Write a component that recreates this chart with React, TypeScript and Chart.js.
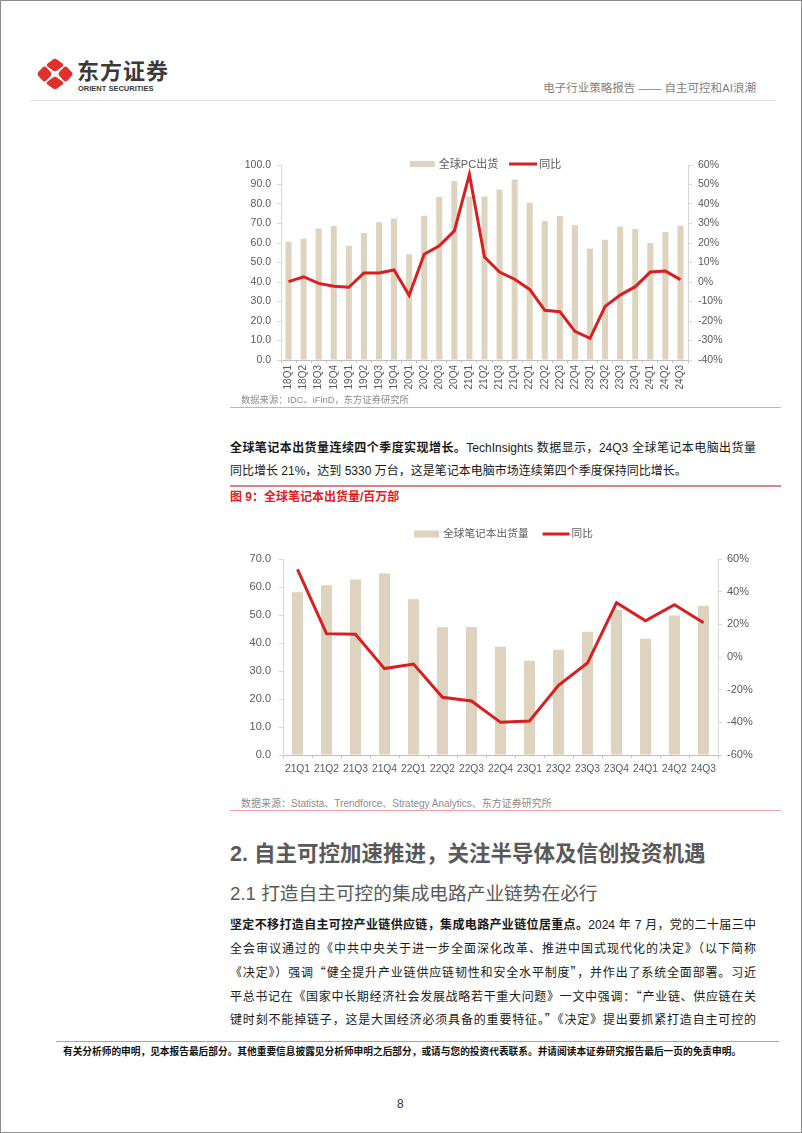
import React, { useEffect, useRef } from "react";
import { Chart, registerables } from "chart.js";

Chart.register(...registerables);

// ---------------- data ----------------
const pcQuarters = [
  "18Q1", "18Q2", "18Q3", "18Q4", "19Q1", "19Q2", "19Q3", "19Q4",
  "20Q1", "20Q2", "20Q3", "20Q4", "21Q1", "21Q2", "21Q3", "21Q4",
  "22Q1", "22Q2", "22Q3", "22Q4", "23Q1", "23Q2", "23Q3", "23Q4",
  "24Q1", "24Q2", "24Q3",
];
const pcShipments = [
  60.7, 62.2, 67.5, 68.7, 58.6, 65.1, 70.6, 72.6,
  54.2, 74.0, 83.6, 91.8, 83.9, 83.8, 87.4, 92.6,
  80.7, 71.3, 73.8, 69.1, 57.1, 61.7, 68.4, 67.2,
  60.0, 65.6, 68.9,
];
const pcYoY = [
  0.2, 2.7, -0.7, -2.2, -2.7, 4.6, 4.6, 6.2,
  -6.8, 14.2, 18.6, 26.2, 55.2, 12.8, 5.1, 1.4,
  -3.8, -14.5, -15.2, -25.3, -28.9, -12.5, -6.7, -2.4,
  5.1, 5.6, 1.2,
];
const pcLeftAxis = { min: 0, max: 100, step: 10 };
const pcRightAxis = { min: -40, max: 60, step: 10 };
const pcLabels = ["全球PC出货", "同比"];

const nbQuarters = [
  "21Q1", "21Q2", "21Q3", "21Q4", "22Q1", "22Q2", "22Q3", "22Q4",
  "23Q1", "23Q2", "23Q3", "23Q4", "24Q1", "24Q2", "24Q3",
];
const nbShipments = [
  58.1, 60.6, 62.7, 64.8, 55.6, 45.6, 45.7, 38.7,
  33.7, 37.6, 44.0, 51.9, 41.5, 49.8, 53.3,
];
const nbYoY = [
  53.7, 14.3, 13.9, -7.1, -4.3, -24.7, -26.9, -40.0,
  -39.2, -17.3, -3.7, 33.3, 22.2, 32.0, 21.0,
];
const nbLeftAxis = { min: 0, max: 70, step: 10 };
const nbRightAxis = { min: -60, max: 60, step: 20 };
const nbLabels = ["全球笔记本出货量", "同比"];

// ---------------- styles ----------------
const SANS = '"Liberation Sans", "Noto Sans CJK SC", sans-serif';
const CJK = '"Noto Sans CJK SC", sans-serif';
const BAR_COLOR = "#DDD3BE";
const LINE_COLOR = "#D91F1F";
const TICK_COLOR = "#595959";
const AXIS_COLOR = "#D9D9D9";

// legend drawn on the canvas, centred over the chart area
const pageLegend = {
  id: "pageLegend",
  afterDraw(chart: any, _args: any, opts: any) {
    if (!opts || !opts.show) return;
    const { ctx, chartArea } = chart;
    ctx.save();
    ctx.font = `${opts.fontSize}px ${SANS}`;
    ctx.textBaseline = "middle";
    const ds = [chart.data.datasets[1], chart.data.datasets[0]]; // bar first, then line
    const widths = ds.map((d: any) => ctx.measureText(d.label).width);
    const swW = (d: any) => (d.type === "bar" ? opts.barW : opts.lineW);
    const swGap = (d: any) => (d.type === "bar" ? opts.barGap : opts.lineGap);
    let total = 0;
    ds.forEach((d: any, k: number) => {
      total += swW(d) + swGap(d) + widths[k];
      if (k < ds.length - 1) total += opts.itemGap;
    });
    let x = (chartArea.left + chartArea.right) / 2 + opts.dx - total / 2;
    const y = chartArea.top + opts.dy;
    ds.forEach((d: any, k: number) => {
      if (d.type === "bar") {
        ctx.fillStyle = d.backgroundColor;
        ctx.fillRect(x, y - opts.barH / 2, opts.barW, opts.barH);
      } else {
        ctx.strokeStyle = d.borderColor;
        ctx.lineWidth = 3;
        ctx.beginPath();
        ctx.moveTo(x, y);
        ctx.lineTo(x + opts.lineW, y);
        ctx.stroke();
      }
      x += swW(d) + swGap(d);
      ctx.fillStyle = TICK_COLOR;
      ctx.fillText(d.label, x, y + 0.5);
      x += widths[k] + opts.itemGap;
    });
    ctx.restore();
  },
};

type AxisCfg = { min: number; max: number; step: number };

function makeConfig(p: {
  labels: string[];
  bars: number[];
  line: number[];
  names: string[];
  left: AxisCfg;
  right: AxisCfg;
  leftW: number;
  rightW: number;
  xH: number;
  padTop: number;
  barFrac: number;
  yFont: number;
  xFont: number;
  rotate: boolean;
  leftPad: number;
  rightPad: number;
  xPad: number;
  legend: any;
}) {
  return {
    type: "bar",
    data: {
      labels: p.labels,
      datasets: [
        {
          type: "line",
          label: p.names[1],
          data: p.line,
          yAxisID: "y1",
          borderColor: LINE_COLOR,
          backgroundColor: LINE_COLOR,
          borderWidth: 3,
          pointRadius: 0,
          tension: 0,
          fill: false,
          order: 0,
        },
        {
          type: "bar",
          label: p.names[0],
          data: p.bars,
          yAxisID: "y",
          backgroundColor: BAR_COLOR,
          barPercentage: p.barFrac,
          categoryPercentage: 1,
          order: 1,
        },
      ],
    },
    options: {
      animation: false,
      responsive: false,
      devicePixelRatio: 1,
      layout: { padding: { top: p.padTop, left: 0, right: 0, bottom: 0 } },
      plugins: {
        legend: { display: false },
        tooltip: { enabled: false },
        pageLegend: p.legend,
      },
      scales: {
        x: {
          offset: true,
          grid: {
            offset: true,
            drawOnChartArea: false,
            drawTicks: true,
            tickLength: 3,
            color: "#BFBFBF",
          },
          border: { color: "#BFBFBF" },
          ticks: {
            color: TICK_COLOR,
            font: { family: SANS, size: p.xFont },
            autoSkip: false,
            maxRotation: p.rotate ? 90 : 0,
            minRotation: p.rotate ? 90 : 0,
            padding: p.xPad,
          },
          afterFit: (s: any) => {
            s.height = p.xH;
          },
        },
        y: {
          position: "left",
          min: p.left.min,
          max: p.left.max,
          grid: {
            drawOnChartArea: false,
            drawTicks: true,
            tickLength: 4,
            color: AXIS_COLOR,
          },
          border: { color: AXIS_COLOR },
          ticks: {
            stepSize: p.left.step,
            color: TICK_COLOR,
            font: { family: SANS, size: p.yFont },
            padding: p.leftPad,
            callback: (v: any) => Number(v).toFixed(1),
          },
          afterFit: (s: any) => {
            s.width = p.leftW;
          },
        },
        y1: {
          position: "right",
          min: p.right.min,
          max: p.right.max,
          grid: {
            drawOnChartArea: false,
            drawTicks: true,
            tickLength: 4,
            color: AXIS_COLOR,
          },
          border: { color: AXIS_COLOR },
          ticks: {
            stepSize: p.right.step,
            color: TICK_COLOR,
            font: { family: SANS, size: p.yFont },
            padding: p.rightPad,
            callback: (v: any) => `${v}%`,
          },
          afterFit: (s: any) => {
            s.width = p.rightW;
          },
        },
      },
    },
    plugins: [pageLegend],
  } as any;
}

function ChartCanvas(props: { left: number; top: number; width: number; height: number; config: () => any }) {
  const ref = useRef<HTMLCanvasElement | null>(null);
  useEffect(() => {
    if (!ref.current) return;
    const chart = new Chart(ref.current, props.config());
    return () => chart.destroy();
  }, []);
  return (
    <canvas
      ref={ref}
      width={props.width}
      height={props.height}
      style={{
        position: "absolute",
        left: props.left,
        top: props.top,
        width: props.width,
        height: props.height,
        display: "block",
      }}
    />
  );
}

function Txt(props: {
  x: number;
  y: number;
  size: number;
  color?: string;
  bold?: boolean;
  lh?: number;
  w?: number;
  justify?: boolean;
  right?: number;
  children: React.ReactNode;
}) {
  const lh = props.lh ?? Math.round(props.size * 1.5);
  const st: any = {
    position: "absolute",
    top: props.y - lh / 2,
    fontSize: props.size,
    lineHeight: `${lh}px`,
    color: props.color ?? "#1A1A1A",
    fontWeight: props.bold ? 700 : 400,
    fontFamily: SANS,
    whiteSpace: props.justify ? "normal" : "nowrap",
  };
  if (props.right !== undefined) st.right = props.right;
  else st.left = props.x;
  if (props.w) st.width = props.w;
  if (props.justify) {
    st.textAlign = "justify";
    st.textAlignLast = "justify";
  }
  return <div style={st}>{props.children}</div>;
}

function Q(props: { children: React.ReactNode }) {
  return <span style={{ fontFamily: CJK }}>{props.children}</span>;
}

function Rule(props: { x1: number; x2: number; y: number; color: string; h?: number }) {
  return (
    <div
      style={{
        position: "absolute",
        left: props.x1,
        top: props.y,
        width: props.x2 - props.x1,
        height: props.h ?? 1,
        background: props.color,
      }}
    />
  );
}

function Logo() {
  const red = "#E0302B";
  const pieces = [
    [0, -9],
    [10.5, 0],
    [0, 9],
    [-10.5, 0],
  ];
  return (
    <svg
      width={40}
      height={40}
      viewBox="-20 -20 40 40"
      style={{ position: "absolute", left: 34, top: 53 }}
    >
      {pieces.map(([dx, dy], i) => (
        <g key={i} transform={`translate(${dx},${dy}) scale(${dy !== 0 ? 1.2 : 1.0},${dy !== 0 ? 0.9 : 1.1}) rotate(45)`}>
          <rect x={-5.6} y={-5.6} width={11.2} height={11.2} rx={2.8} fill={red} />
        </g>
      ))}
    </svg>
  );
}

export default function App() {
  const pcConfig = () =>
    makeConfig({
      labels: pcQuarters,
      bars: pcShipments,
      line: pcYoY,
      names: pcLabels,
      left: pcLeftAxis,
      right: pcRightAxis,
      leftW: 52,
      rightW: 66,
      xH: 36,
      padTop: 14,
      barFrac: 0.4,
      yFont: 10.5,
      xFont: 10,
      rotate: true,
      leftPad: 6,
      rightPad: 6,
      xPad: 2,
      legend: {
        show: true,
        fontSize: 11,
        dx: 1,
        dy: -1,
        barW: 25,
        barH: 6,
        barGap: 4,
        lineW: 28,
        lineGap: 2,
        itemGap: 11,
      },
    });

  const nbConfig = () =>
    makeConfig({
      labels: nbQuarters,
      bars: nbShipments,
      line: nbYoY,
      names: nbLabels,
      left: nbLeftAxis,
      right: nbRightAxis,
      leftW: 54,
      rightW: 48,
      xH: 24,
      padTop: 43,
      barFrac: 0.38,
      yFont: 11,
      xFont: 10.3,
      rotate: false,
      leftPad: 8,
      rightPad: 5,
      xPad: 5,
      legend: {
        show: true,
        fontSize: 10.7,
        dx: 3,
        dy: -25,
        barW: 25,
        barH: 7,
        barGap: 4,
        lineW: 27,
        lineGap: 2,
        itemGap: 14,
      },
    });

  const pColor = "#1A1A1A";
  const paraSize = 12;

  return (
    <div
      style={{
        position: "absolute",
        left: 0,
        top: 0,
        width: 802,
        height: 1133,
        boxSizing: "border-box",
        border: "1px solid #8C8C8C",
        background: "#FFFFFF",
        overflow: "hidden",
        fontFamily: SANS,
      }}
    >
      {/* header */}
      <Logo />
      <Txt x={76} y={71} size={22} bold color="#3A3A3A" lh={26}>
        <span style={{ letterSpacing: 1 }}>东方证券</span>
      </Txt>
      <Txt x={77} y={87} size={7.5} bold color="#3A3A3A" lh={9}>
        ORIENT SECURITIES
      </Txt>
      <Txt x={0} right={45} y={87} size={11.5} color="#7F7F7F">
        电子行业策略报告 —— 自主可控和AI浪潮
      </Txt>
      <Rule x1={28} x2={775} y={99} color="#E2E2E2" />

      {/* chart 1: global PC shipments */}
      <ChartCanvas left={228} top={150} width={525} height={245} config={pcConfig} />
      <Txt x={240} y={399} size={9.3} color="#8C8C8C">
        数据来源：IDC、iFinD，东方证券研究所
      </Txt>
      <Rule x1={229} x2={780} y={406} color="#E8A3A3" />

      {/* paragraph 1 */}
      <Txt x={229} y={447} size={paraSize} w={526} justify color={pColor}>
        <b>全球笔记本出货量连续四个季度实现增长。</b>TechInsights 数据显示，24Q3 全球笔记本电脑出货量
      </Txt>
      <Txt x={229} y={470} size={paraSize} color={pColor}>
        同比增长 21%，达到 5330 万台，这是笔记本电脑市场连续第四个季度保持同比增长。
      </Txt>

      {/* figure 9 title */}
      <Rule x1={229} x2={780} y={484} color="#D98585" h={2} />
      <Txt x={229} y={496} size={12} bold color="#E0201B">
        图 9：全球笔记本出货量/百万部
      </Txt>

      {/* chart 2: global notebook shipments */}
      <ChartCanvas left={228} top={515} width={537} height={263} config={nbConfig} />
      <Txt x={240} y={802} size={10} color="#8C8C8C">
        数据来源：Statista、Trendforce、Strategy Analytics、东方证券研究所
      </Txt>
      <Rule x1={229} x2={780} y={809} color="#E8A3A3" />

      {/* section 2 */}
      <Txt x={229} y={853} size={21.5} bold color="#595959" lh={30}>
        2. 自主可控加速推进，关注半导体及信创投资机遇
      </Txt>
      <Txt x={229} y={893} size={18.7} color="#595959" lh={28}>
        2.1 打造自主可控的集成电路产业链势在必行
      </Txt>
      <Txt x={229} y={924} size={paraSize} w={526} justify color={pColor}>
        <b>坚定不移打造自主可控产业链供应链，集成电路产业链位居重点。</b>2024 年 7 月，党的二十届三中
      </Txt>
      <Txt x={229} y={947.5} size={paraSize} w={526} justify color={pColor}>
        全会审议通过的《中共中央关于进一步全面深化改革、推进中国式现代化的决定》（以下简称
      </Txt>
      <Txt x={229} y={971} size={paraSize} w={526} justify color={pColor}>
        《决定》）强调<Q>“</Q>健全提升产业链供应链韧性和安全水平制度<Q>”</Q>，并作出了系统全面部署。习近
      </Txt>
      <Txt x={229} y={994.5} size={paraSize} w={526} justify color={pColor}>
        平总书记在《国家中长期经济社会发展战略若干重大问题》一文中强调：<Q>“</Q>产业链、供应链在关
      </Txt>
      <Txt x={229} y={1018} size={paraSize} w={526} justify color={pColor}>
        键时刻不能掉链子，这是大国经济必须具备的重要特征。<Q>”</Q>《决定》提出要抓紧打造自主可控的
      </Txt>

      {/* footer */}
      <Rule x1={55} x2={778} y={1040} color="#A6A6A6" />
      <Txt x={62} y={1050} size={9.7} bold color="#111111">
        有关分析师的申明，见本报告最后部分。其他重要信息披露见分析师申明之后部分，或请与您的投资代表联系。并请阅读本证券研究报告最后一页的免责申明。
      </Txt>
      <Txt x={396} y={1103} size={12} color="#333333">
        8
      </Txt>
    </div>
  );
}
